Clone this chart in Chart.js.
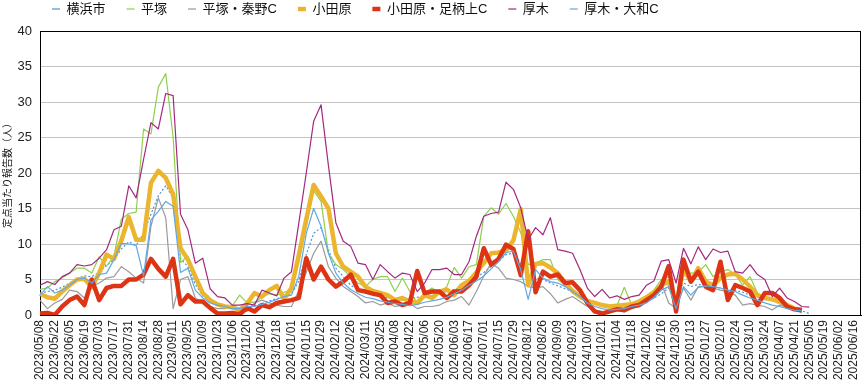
<!DOCTYPE html>
<html>
<head>
<meta charset="utf-8">
<script src="https://cdn.jsdelivr.net/npm/chart.js@4.4.1/dist/chart.umd.min.js"></script>
<style>
html,body{margin:0;padding:0;background:#fff;}
canvas{display:block;}
</style>
</head>
<body>
<canvas id="c" width="864" height="382"></canvas>
<script>
// Week start dates (categories)
const weeks = [
"2023/05/08","2023/05/15","2023/05/22","2023/05/29","2023/06/05","2023/06/12","2023/06/19","2023/06/26",
"2023/07/03","2023/07/10","2023/07/17","2023/07/24","2023/07/31","2023/08/07","2023/08/14","2023/08/21",
"2023/08/28","2023/09/04","2023/09/11","2023/09/18","2023/09/25","2023/10/02","2023/10/09","2023/10/16",
"2023/10/23","2023/10/30","2023/11/06","2023/11/13","2023/11/20","2023/11/27","2023/12/04","2023/12/11",
"2023/12/18","2023/12/25","2024/01/01","2024/01/08","2024/01/15","2024/01/22","2024/01/29","2024/02/05",
"2024/02/12","2024/02/19","2024/02/26","2024/03/04","2024/03/11","2024/03/18","2024/03/25","2024/04/01",
"2024/04/08","2024/04/15","2024/04/22","2024/04/29","2024/05/06","2024/05/13","2024/05/20","2024/05/27",
"2024/06/03","2024/06/10","2024/06/17","2024/06/24","2024/07/01","2024/07/08","2024/07/15","2024/07/22",
"2024/07/29","2024/08/05","2024/08/12","2024/08/19","2024/08/26","2024/09/02","2024/09/09","2024/09/16",
"2024/09/23","2024/09/30","2024/10/07","2024/10/14","2024/10/21","2024/10/28","2024/11/04","2024/11/11",
"2024/11/18","2024/11/25","2024/12/02","2024/12/09","2024/12/16","2024/12/23","2024/12/30","2025/01/06",
"2025/01/13","2025/01/20","2025/01/27","2025/02/03","2025/02/10","2025/02/17","2025/02/24","2025/03/03",
"2025/03/10","2025/03/17","2025/03/24","2025/03/31","2025/04/07","2025/04/14","2025/04/21","2025/04/28",
"2025/05/05","2025/05/12","2025/05/19","2025/05/26","2025/06/02","2025/06/09","2025/06/16","2025/06/23"
];

const yokohama = [3.1,3.3,3.5,3.9,4.5,5.1,5.5,5.4,6.0,7.0,7.8,9.3,10.3,9.8,11.5,14.2,16.8,18.2,16.5,8.0,
6.8,4.3,2.7,1.8,1.3,1.1,1.0,1.0,1.1,1.3,1.6,2.0,2.3,2.5,3.0,4.8,8.5,11.5,12.3,9.2,
6.6,5.4,4.2,3.6,3.3,2.9,2.6,2.4,2.2,2.1,2.3,2.5,2.6,2.8,3.0,3.3,3.6,4.0,4.6,5.3,
6.0,6.8,7.6,8.5,8.7,7.3,5.9,5.2,5.0,4.5,4.1,3.7,3.3,2.8,2.2,1.8,1.5,1.3,1.3,1.4,
1.5,1.7,2.0,2.4,3.0,3.8,2.6,4.5,4.0,4.3,4.2,3.9,3.8,3.6,3.5,3.2,2.8,2.5,2.2,2.0,
1.6,1.3,1.0,0.6,0.2];

const hiratsuka = [3.6,3.8,4.7,5.2,5.9,6.6,6.6,5.9,8.2,6.9,8.3,13.5,14.3,14.5,26.2,25.5,32.1,34.0,25.0,7.4,
8.3,5.0,3.1,2.2,1.7,1.2,1.3,2.8,1.7,1.8,2.5,3.0,2.8,3.2,3.6,7.5,12.5,17.5,16.0,8.7,
7.1,6.4,5.4,4.5,4.0,5.0,5.4,5.4,3.3,5.2,3.3,1.7,3.1,3.8,3.1,4.0,6.7,5.2,6.8,7.1,
13.9,15.1,14.2,15.7,13.9,11.6,7.1,7.3,7.8,7.8,5.0,4.2,3.1,2.4,1.9,1.5,1.2,1.0,1.3,3.9,
1.4,2.1,2.7,3.5,5.0,5.4,1.5,5.9,5.9,6.0,7.1,5.4,6.1,6.4,5.7,4.2,5.4,3.1,2.4,2.1,
1.9,1.4,0.9,0.7];

const hiratsukaHadano = [2.1,0.9,1.7,2.2,3.5,3.3,2.4,4.0,4.5,5.2,5.4,6.8,6.1,5.2,4.5,12.5,16.5,13.7,0.9,5.0,
5.4,2.4,1.7,1.2,0.9,0.9,1.2,0.9,0.5,1.7,2.1,1.7,1.4,1.2,1.2,3.5,6.0,8.7,10.4,6.8,
5.2,4.0,3.3,2.6,1.7,1.9,1.4,1.7,1.2,1.4,1.7,0.9,1.2,1.2,1.4,1.9,2.1,2.6,1.4,3.3,
5.5,7.3,6.6,5.2,5.0,4.7,4.0,3.8,4.0,3.0,1.7,2.2,2.6,1.9,1.2,0.7,0.5,0.3,0.7,0.4,
0.9,1.2,1.9,2.4,4.5,1.7,0.9,3.8,2.1,4.0,4.0,3.8,3.5,3.3,2.8,1.4,1.6,1.4,1.2,0.7,
1.4,1.1,0.7,0.3];

const odawara = [3.0,2.5,2.3,3.3,4.2,5.0,5.1,3.9,5.9,8.5,7.9,10.5,13.8,10.6,10.6,18.6,20.3,19.3,17.0,9.4,
7.8,5.4,3.1,2.1,1.5,1.2,1.1,0.7,1.6,3.1,2.6,3.5,4.1,2.3,3.8,8.5,13.5,18.3,16.7,15.0,
8.7,6.8,6.1,5.4,4.0,3.4,3.1,2.8,2.1,2.4,1.9,1.7,2.8,2.4,3.3,3.6,2.8,4.2,4.8,6.0,
7.3,8.7,8.8,9.1,10.5,14.9,4.2,7.2,7.3,6.7,5.9,4.5,3.4,2.6,2.0,1.7,1.4,1.2,1.3,1.4,
1.5,1.9,2.5,3.2,4.2,4.7,1.5,6.4,4.7,6.6,4.7,4.2,5.2,5.7,5.8,5.0,4.0,2.8,2.4,2.2,
1.9,1.4,0.9,0.7];

const odawaraAshigarakami = [0.2,0.3,0.0,1.2,2.1,2.6,1.4,5.0,2.1,3.8,4.1,4.1,5.0,5.0,5.7,7.9,6.5,5.4,7.9,1.5,
2.8,1.9,1.9,1.0,0.2,0.2,0.3,0.1,1.0,0.5,1.4,1.1,1.7,1.9,2.1,2.4,8.0,5.0,6.8,5.0,
4.0,4.7,5.7,3.5,3.3,3.0,2.8,1.7,1.9,1.4,1.7,6.2,3.1,3.3,3.3,2.4,3.3,3.3,4.2,5.4,
9.4,7.1,7.9,9.9,9.3,5.6,11.8,3.2,6.1,5.4,5.7,4.5,4.6,3.5,1.7,0.5,0.2,0.5,0.8,0.7,
1.2,1.4,2.1,2.8,4.0,6.9,0.5,7.8,4.7,6.1,4.0,3.5,7.5,2.1,4.2,3.8,3.3,1.4,3.1,3.1,
2.4,1.2,0.8,0.7];

const atsugi = [4.2,4.7,4.3,5.4,5.9,7.1,6.9,7.1,8.0,9.2,12.0,12.5,18.2,16.5,21.9,27.1,26.2,31.2,30.9,14.2,
12.0,7.3,8.0,3.7,2.6,2.4,1.4,1.4,1.6,1.4,3.5,3.1,2.7,5.2,6.1,13.0,20.0,27.3,29.6,21.0,
13.0,10.4,9.7,7.3,7.1,5.0,7.1,6.1,5.2,5.9,5.7,3.3,4.5,6.4,6.4,6.6,5.7,5.7,7.5,11.1,
13.9,14.3,14.5,18.7,17.7,15.1,10.6,12.3,11.3,13.7,9.2,9.0,8.7,6.4,3.8,2.6,3.6,2.4,2.7,2.2,
2.6,2.8,4.2,4.8,7.6,7.8,4.5,9.4,7.2,9.6,7.8,9.3,8.8,9.0,6.1,5.9,7.1,5.7,5.0,2.6,
3.8,2.4,1.9,1.2,1.1];

const atsugiYamato = [2.8,4.0,3.1,3.5,4.2,5.0,5.2,4.5,5.7,5.9,7.8,10.1,10.0,9.8,5.5,13.4,14.6,16.0,15.3,6.0,
6.6,3.5,2.4,1.7,1.4,1.2,0.9,0.9,1.2,1.2,1.5,1.8,2.2,2.6,2.8,5.5,11.5,15.0,12.5,8.7,
5.9,4.5,3.6,3.0,2.5,2.3,2.0,1.8,1.6,1.5,1.3,1.5,1.8,2.0,2.2,2.5,3.0,3.5,4.2,4.8,
5.5,6.5,7.5,8.8,9.0,6.4,2.2,6.4,5.2,4.7,4.5,4.0,3.3,2.6,1.7,1.2,0.9,0.7,0.8,0.9,
1.2,1.4,1.7,2.5,3.5,4.0,0.9,4.0,2.8,3.9,4.1,4.0,3.8,3.5,3.3,2.8,2.4,2.1,1.7,1.4,
1.2,0.9,0.7,0.6];

const seriesNames = ["横浜市","平塚","平塚・秦野C","小田原","小田原・足柄上C","厚木","厚木・大和C"];
const yTicks = [0,5,10,15,20,25,30,35,40];
const yTitle = "定点当たり報告数（人）";

const FONT = "'Liberation Sans', Arial, 'Noto Sans CJK JP', sans-serif";

function ds(label, data, color, width, dash) {
  return {
    label: label, data: data, borderColor: color, backgroundColor: color,
    borderWidth: width, borderDash: dash || [], pointRadius: 0, pointHoverRadius: 0,
    tension: 0, fill: false, borderJoinStyle: 'round', borderCapStyle: 'butt'
  };
}

const datasets = [
  ds(seriesNames[0], yokohama, '#4f93d8', 1.2, [2, 2]),
  ds(seriesNames[1], hiratsuka, '#8fcf4e', 1.2),
  ds(seriesNames[2], hiratsukaHadano, '#9a9a9a', 1.2),
  ds(seriesNames[3], odawara, '#ebb52e', 4.5),
  ds(seriesNames[4], odawaraAshigarakami, '#dc3414', 4.5),
  ds(seriesNames[5], atsugi, '#a3297f', 1.2),
  ds(seriesNames[6], atsugiYamato, '#5fa9e6', 1.2)
];
datasets.forEach((d, i) => { d.order = datasets.length - i; });

const framePlugin = {
  id: 'frame',
  beforeDatasetsDraw(chart) {
    const a = chart.chartArea, ctx = chart.ctx;
    ctx.save();
    ctx.strokeStyle = '#000';
    ctx.lineWidth = 1;
    ctx.strokeRect(Math.round(a.left) + 0.5, Math.round(a.top) + 0.5,
      Math.round(a.right - a.left) - 1, Math.round(a.bottom - a.top));
    ctx.restore();
  }
};

const legendPos = {
  id: 'legendPos',
  afterLayout(chart) {
    if (chart.legend) { chart.legend.left = 31; chart.legend.top = -18.5; }
  }
};

new Chart(document.getElementById('c'), {
  type: 'line',
  data: { labels: weeks, datasets: datasets },
  plugins: [framePlugin, legendPos],
  options: {
    responsive: false,
    animation: false,
    events: [],
    layout: { padding: { top: -13, right: 3, left: 0, bottom: 0 } },
    plugins: {
      legend: {
        position: 'top', align: 'start',
        labels: {
          usePointStyle: true, pointStyle: 'line', pointStyleWidth: 8,
          padding: 21, color: '#111',
          font: { size: 13, family: FONT },
          sort: (a, b) => a.datasetIndex - b.datasetIndex
        }
      },
      tooltip: { enabled: false }
    },
    scales: {
      x: {
        type: 'category', offset: false,
        grid: { display: false, drawTicks: false },
        border: { display: true, color: '#000' },
        ticks: {
          autoSkip: false, maxRotation: 90, minRotation: 90, padding: 5,
          color: '#222', font: { size: 12, family: FONT },
          callback: function (v, i) { return i % 2 === 0 ? weeks[i] : ''; }
        },
        afterFit: s => { s.height = 67; s.paddingLeft = 0; s.paddingRight = 0; }
      },
      y: {
        min: yTicks[0], max: yTicks[yTicks.length - 1],
        afterBuildTicks: s => { s.ticks = yTicks.map(v => ({ value: v })); },
        grid: { color: '#c4c4c4', drawTicks: false, lineWidth: 1 },
        border: { display: true, color: '#000' },
        ticks: { padding: 8, color: '#222', font: { size: 13, family: FONT } },
        title: { display: true, text: yTitle, color: '#111', font: { size: 10, family: FONT }, padding: { top: 2, bottom: 0 } },
        afterFit: s => { s.width = 40; }
      }
    }
  }
});
</script>
</body>
</html>
